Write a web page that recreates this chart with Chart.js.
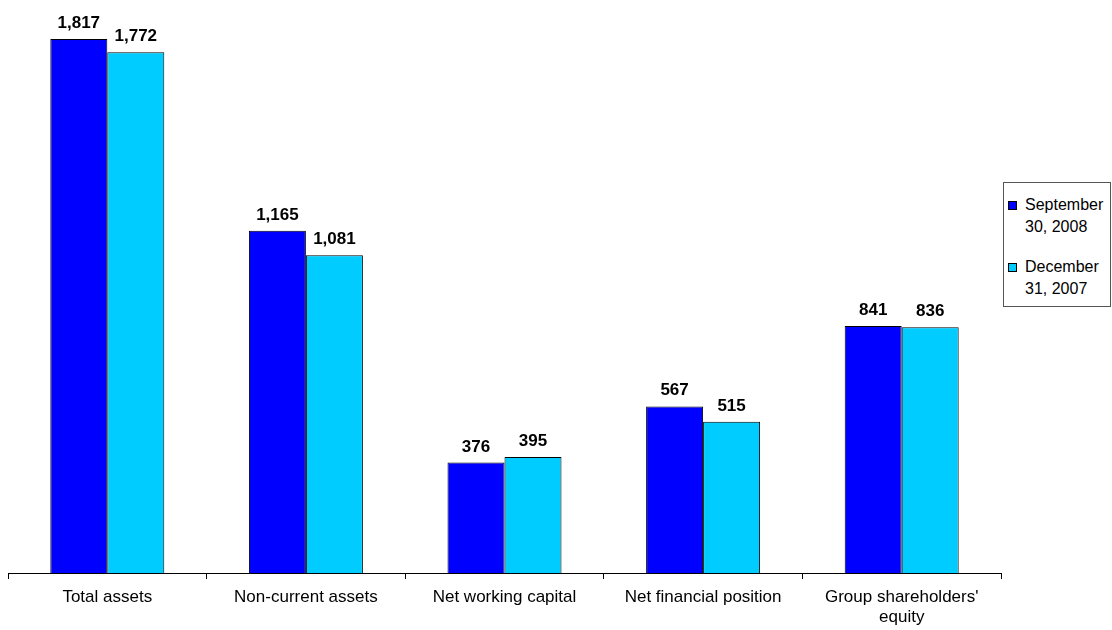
<!DOCTYPE html>
<html>
<head>
<meta charset="utf-8">
<script src="https://cdn.jsdelivr.net/npm/chart.js@4/dist/chart.umd.min.js"></script>
<style>
  html, body { margin: 0; padding: 0; background: #fff; }
  #wrap { position: relative; width: 1112px; height: 630px; }
  #legend {
    position: absolute; left: 1003px; top: 182px; width: 108px; height: 125px;
    border: 1px solid #555; box-sizing: border-box; background: #fff;
    font-family: "Liberation Sans", Arial, sans-serif; font-size: 16px; color: #000;
  }
  .item { position: absolute; left: 21px; line-height: 22px; }
  .sw { position: absolute; left: -17px; top: 7px; width: 7px; height: 7px; border: 1px solid #000; }
</style>
</head>
<body>
<div id="wrap">
  <canvas id="myChart" width="1112" height="630"></canvas>
  <div id="legend"></div>
</div>
<script>
var categories = ['Total assets', 'Non-current assets', 'Net working capital', 'Net financial position', ["Group shareholders'", 'equity']];
var seriesNames = ['September 30, 2008', 'December 31, 2007'];
var sep2008 = [1817, 1165, 376, 567, 841];
var dec2007 = [1772, 1081, 395, 515, 836];
var colors = ['#0000FF', '#00CCFF'];

// legend is html so the series names can wrap like the original
var legendLines = [['September', '30, 2008'], ['December', '31, 2007']];
var legend = document.getElementById('legend');
legendLines.forEach(function (lines, i) {
  var d = document.createElement('div');
  d.className = 'item';
  d.style.top = (i === 0 ? 11 : 73) + 'px';
  d.innerHTML = '<span class="sw" style="background:' + colors[i] + '"></span>' + lines.join('<br>');
  legend.appendChild(d);
});

var valueLabels = {
  id: 'valueLabels',
  afterDatasetsDraw: function (chart) {
    var ctx = chart.ctx;
    ctx.save();
    ctx.font = 'bold 17px "Liberation Sans"';
    ctx.fillStyle = '#000';
    ctx.textAlign = 'center';
    ctx.textBaseline = 'alphabetic';
    chart.data.datasets.forEach(function (ds, i) {
      chart.getDatasetMeta(i).data.forEach(function (bar, j) {
        ctx.fillText(ds.data[j].toLocaleString('en-US'), bar.x, bar.y - 11);
      });
    });
    ctx.restore();
  }
};

var ctx = document.getElementById('myChart').getContext('2d');
new Chart(ctx, {
  type: 'bar',
  data: {
    labels: categories,
    datasets: [
      { label: seriesNames[0], data: sep2008, backgroundColor: colors[0], borderColor: '#000', borderWidth: 1 },
      { label: seriesNames[1], data: dec2007, backgroundColor: colors[1], borderColor: '#000', borderWidth: 1 }
    ]
  },
  options: {
    responsive: false,
    animation: false,
    layout: { padding: { left: 8, right: 111, top: 0, bottom: 0 } },
    datasets: { bar: { categoryPercentage: 0.574, barPercentage: 1 } },
    plugins: { legend: { display: false }, tooltip: { enabled: false } },
    scales: {
      x: {
        grid: { offset: true, drawOnChartArea: false, tickLength: 6, color: '#000' },
        border: { color: '#000' },
        ticks: { color: '#000', font: { family: 'Liberation Sans', size: 17, lineHeight: 1.15 }, padding: 9, maxRotation: 0 },
        afterFit: function (scale) { scale.height = 57; }
      },
      y: { display: false, min: 0, max: 1950 }
    }
  },
  plugins: [valueLabels]
});
</script>
</body>
</html>
